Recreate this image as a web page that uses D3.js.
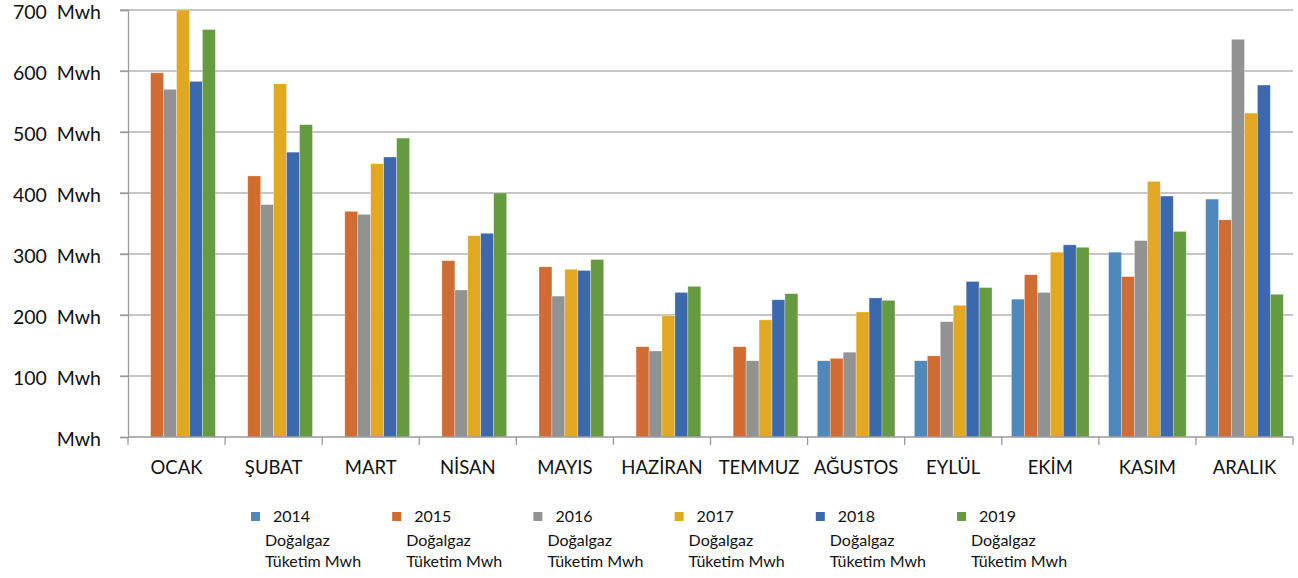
<!DOCTYPE html>
<html>
<head>
<meta charset="utf-8">
<script src="https://cdn.jsdelivr.net/npm/d3@7"></script>
<style>
  body { margin: 0; background: #fff; }
  text { font-family: Lato, "Open Sans", sans-serif; fill: #111; }
</style>
</head>
<body>
<div class="chart"></div>
<script>
// Doğalgaz tüketimi, aylara göre (Mwh)

var months = ["OCAK", "ŞUBAT", "MART", "NİSAN", "MAYIS", "HAZİRAN", "TEMMUZ", "AĞUSTOS", "EYLÜL", "EKİM", "KASIM", "ARALIK"];
var years = ["2014", "2015", "2016", "2017", "2018", "2019"];
var colors = ["#4f88bb", "#d06c31", "#929292", "#e2a823", "#3c68ae", "#669a40"];

// null = no bar for that month
var v2014 = [null, null, null, null, null, null, null, 125, 125, 226, 303, 390];
var v2015 = [597, 428, 370, 289, 279, 148, 148, 129, 133, 266, 263, 356];
var v2016 = [570, 381, 365, 241, 231, 141, 125, 139, 189, 237, 322, 652];
var v2017 = [700, 579, 448, 330, 275, 199, 192, 205, 216, 303, 419, 531];
var v2018 = [583, 467, 459, 334, 273, 237, 225, 228, 255, 315, 395, 577];
var v2019 = [668, 512, 490, 400, 291, 247, 235, 224, 245, 311, 337, 234];

var yTicks = [0, 100, 200, 300, 400, 500, 600, 700];

var series = [v2014, v2015, v2016, v2017, v2018, v2019];

var svgWidth = 1298;
var svgHeight = 578;

var margin = { top: 10, right: 5, bottom: 141, left: 128 };
var width = svgWidth - margin.left - margin.right;
var height = svgHeight - margin.top - margin.bottom;

var svg = d3.select(".chart")
  .append("svg")
  .attr("width", svgWidth)
  .attr("height", svgHeight);

var chartGroup = svg.append("g")
  .attr("transform", `translate(${margin.left}, ${margin.top})`);

// scales
var x0 = d3.scaleBand()
  .domain(months)
  .range([0, width])
  .paddingInner(0.2)
  .paddingOuter(0.1);

var x1 = d3.scaleBand()
  .domain(years)
  .range([0, x0.bandwidth()]);

var y = d3.scaleLinear()
  .domain([0, 700])
  .range([height, 0]);

// gridlines
chartGroup.append("g")
  .selectAll("line")
  .data(yTicks.slice(1))
  .enter()
  .append("line")
  .attr("x1", -8)
  .attr("x2", width)
  .attr("y1", d => y(d))
  .attr("y2", d => y(d))
  .attr("stroke", "#b3b3b3")
  .attr("stroke-width", 1.3);

// bars
var rows = [];
months.forEach(function(m, i) {
  years.forEach(function(yr, j) {
    if (series[j][i] != null) rows.push({ month: m, year: yr, value: series[j][i], k: j });
  });
});

chartGroup.append("g")
  .selectAll("rect")
  .data(rows)
  .enter()
  .append("rect")
  .attr("x", d => x0(d.month) + x1(d.year))
  .attr("y", d => y(d.value))
  .attr("width", x1.bandwidth())
  .attr("height", d => height - y(d.value))
  .attr("fill", d => colors[d.k])
  .attr("stroke", "#ffffff")
  .attr("stroke-opacity", 0.5)
  .attr("stroke-width", 0.6);

// left axis
var leftAxis = d3.axisLeft(y)
  .tickValues(yTicks)
  .tickSize(8)
  .tickPadding(19)
  .tickFormat(d => d === 0 ? "Mwh" : d + "  Mwh");

var yAxis = chartGroup.append("g").call(leftAxis);
yAxis.select(".domain").attr("stroke", "#9a9a9a").attr("stroke-width", 1.3);
yAxis.selectAll(".tick line").attr("stroke", "#9a9a9a").attr("stroke-width", 1.3);
yAxis.selectAll("text")
  .style("font-size", "19.5px")
  .attr("fill", "#111")
  .attr("dy", "0.42em")
  .style("white-space", "pre")
  .attr("xml:space", "preserve");

// bottom axis: ticks at category boundaries
var bottom = chartGroup.append("g")
  .attr("transform", `translate(0, ${height})`);

bottom.append("line")
  .attr("x1", 0).attr("x2", width)
  .attr("stroke", "#9a9a9a").attr("stroke-width", 1.3);

var step = x0.step();
bottom.selectAll(".btick")
  .data(d3.range(months.length + 1))
  .enter()
  .append("line")
  .attr("class", "btick")
  .attr("x1", d => x0(months[0]) - x0.paddingOuter() * step + d * step)
  .attr("x2", d => x0(months[0]) - x0.paddingOuter() * step + d * step)
  .attr("y1", 0)
  .attr("y2", 8)
  .attr("stroke", "#9a9a9a").attr("stroke-width", 1.3);

bottom.selectAll(".mlabel")
  .data(months)
  .enter()
  .append("text")
  .attr("class", "mlabel")
  .attr("x", d => x0(d) + x0.bandwidth() / 2)
  .attr("y", 37)
  .attr("text-anchor", "middle")
  .style("font-size", "18.5px")
  .text(d => d);

// legend
var legend = svg.append("g")
  .attr("transform", "translate(251, 512)");

var items = legend.selectAll("g")
  .data(years)
  .enter()
  .append("g")
  .attr("transform", (d, i) => `translate(${i * 141.2}, 0)`);

items.append("rect")
  .attr("width", 9)
  .attr("height", 9)
  .attr("fill", (d, i) => colors[i]);

items.append("text")
  .attr("x", 22)
  .attr("y", 10)
  .style("font-size", "16px")
  .text(d => d);

items.append("text")
  .attr("x", 14)
  .attr("y", 34)
  .style("font-size", "16px")
  .text("Doğalgaz");

items.append("text")
  .attr("x", 14)
  .attr("y", 55)
  .style("font-size", "16px")
  .text("Tüketim Mwh");
</script>
</body>
</html>
